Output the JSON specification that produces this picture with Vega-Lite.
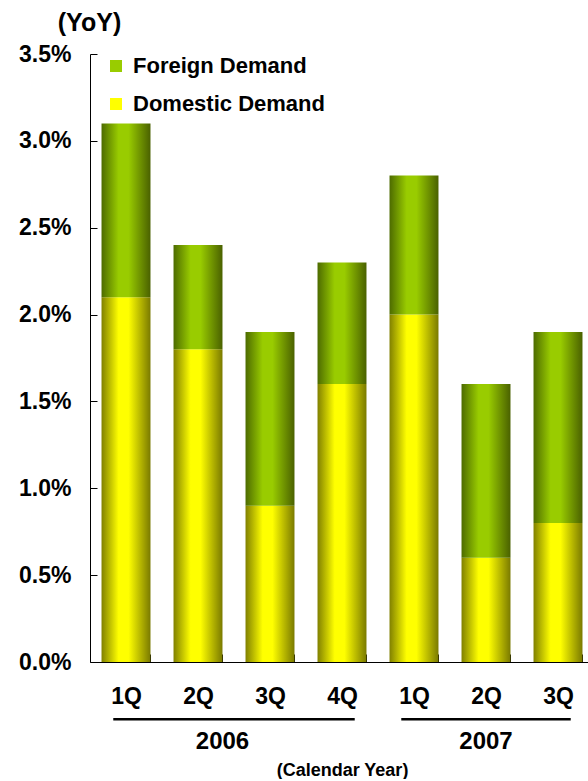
{
  "$schema": "https://vega.github.io/schema/vega-lite/v6.json",
  "background": "white",
  "padding": {"left": 18, "top": 10, "right": 0, "bottom": 0},
  "config": {
    "font": "Liberation Sans",
    "view": {"stroke": null},
    "axis": {"labelColor": "black", "titleColor": "black", "domainColor": "black", "tickColor": "black", "labelFontWeight": "bold", "titleFontWeight": "bold", "ticks": true, "tickWidth": 1},
    "legend": {"labelColor": "black"}
  },
  "datasets": {
    "bars": [
      {"key": "2006-1Q", "series": "Domestic Demand", "value": 2.1},
      {"key": "2006-1Q", "series": "Foreign Demand", "value": 1.0},
      {"key": "2006-2Q", "series": "Domestic Demand", "value": 1.8},
      {"key": "2006-2Q", "series": "Foreign Demand", "value": 0.6},
      {"key": "2006-3Q", "series": "Domestic Demand", "value": 0.9},
      {"key": "2006-3Q", "series": "Foreign Demand", "value": 1.0},
      {"key": "2006-4Q", "series": "Domestic Demand", "value": 1.6},
      {"key": "2006-4Q", "series": "Foreign Demand", "value": 0.7},
      {"key": "2007-1Q", "series": "Domestic Demand", "value": 2.0},
      {"key": "2007-1Q", "series": "Foreign Demand", "value": 0.8},
      {"key": "2007-2Q", "series": "Domestic Demand", "value": 0.6},
      {"key": "2007-2Q", "series": "Foreign Demand", "value": 1.0},
      {"key": "2007-3Q", "series": "Domestic Demand", "value": 0.8},
      {"key": "2007-3Q", "series": "Foreign Demand", "value": 1.1}
    ],
    "years": [
      {"year": "2006", "first": "2006-1Q", "last": "2006-4Q", "mid": "2006-2Q"},
      {"year": "2007", "first": "2007-1Q", "last": "2007-3Q", "mid": "2007-2Q"}
    ]
  },
  "spacing": 0,
  "vconcat": [
    {
      "width": 504,
      "height": 608,
      "data": {"name": "bars"},
      "transform": [
        {"stack": "value", "groupby": ["key"], "sort": [{"field": "series", "order": "ascending"}], "as": ["y0", "y1"]}
      ],
      "encoding": {
        "x": {
          "field": "key", "type": "nominal", "sort": null,
          "scale": {"domain": ["2006-1Q","2006-2Q","2006-3Q","2006-4Q","2007-1Q","2007-2Q","2007-3Q"], "paddingInner": 0.32, "paddingOuter": 0.16},
          "axis": {"title": null, "labelExpr": "split(datum.label, '-')[1]", "labelFontSize": 23, "labelAngle": 0, "tickBand": "extent", "tickSize": -8, "labelPadding": 31, "domainWidth": 1}
        },
        "y": {
          "field": "y0", "type": "quantitative",
          "scale": {"domain": [0, 3.5], "nice": false},
          "axis": {
            "values": [0, 0.5, 1, 1.5, 2, 2.5, 3, 3.5],
            "labelExpr": "format(datum.value, '.1f') + '%'",
            "labelFontSize": 23, "grid": false, "tickSize": -7, "labelPadding": 26,
            "title": "(YoY)", "titleAngle": 0, "titleAlign": "center", "titleBaseline": "middle",
            "titleX": -1, "titleY": -32, "titleFontSize": 25
          }
        },
        "y2": {"field": "y1"}
      },
      "layer": [
        {
          "transform": [{"filter": "datum.series == 'Domestic Demand'"}],
          "mark": {"type": "bar", "color": {"gradient": "linear", "x1": 0, "y1": 0, "x2": 1, "y2": 0, "stops": [
            {"offset": 0, "color": "#808000"}, {"offset": 0.35, "color": "#ffff00"}, {"offset": 0.55, "color": "#ffff00"}, {"offset": 1, "color": "#7a7a00"}]}}
        },
        {
          "transform": [{"filter": "datum.series == 'Foreign Demand'"}],
          "mark": {"type": "bar", "color": {"gradient": "linear", "x1": 0, "y1": 0, "x2": 1, "y2": 0, "stops": [
            {"offset": 0, "color": "#4d6b00"}, {"offset": 0.35, "color": "#99cc00"}, {"offset": 0.55, "color": "#99cc00"}, {"offset": 1, "color": "#4a6100"}]}}
        },
        {
          "mark": {"type": "square", "size": 0, "filled": true, "opacity": 1},
          "encoding": {
            "y": {"field": "y1", "type": "quantitative"},
            "y2": null,
            "color": {
              "field": "series", "type": "nominal",
              "scale": {"domain": ["Foreign Demand", "Domestic Demand"], "range": ["#99cc00", "#ffff00"]},
              "legend": {
                "title": null, "orient": "none", "legendX": 15, "legendY": 1,
                "symbolType": "square", "symbolSize": 144, "symbolStrokeWidth": 0,
                "labelFontSize": 22, "labelFontWeight": "bold", "labelOffset": 6, "rowPadding": 16, "padding": 0, "labelLimit": 400
              }
            }
          }
        }
      ]
    },
    {
      "width": 504,
      "height": 45,
      "data": {"name": "years"},
      "layer": [
        {
          "mark": {"type": "rule", "strokeWidth": 2.5, "color": "black"},
          "encoding": {
            "x": {"field": "first", "type": "nominal", "bandPosition": 0.24,
              "scale": {"domain": ["2006-1Q","2006-2Q","2006-3Q","2006-4Q","2007-1Q","2007-2Q","2007-3Q"], "paddingInner": 0.32, "paddingOuter": 0.16},
              "axis": {"title": "(Calendar Year)", "labels": false, "ticks": false, "domain": false, "titleFontSize": 18, "titlePadding": 8}},
            "x2": {"field": "last", "bandPosition": 0.76},
            "y": {"datum": "line", "type": "nominal", "scale": {"domain": ["line", "year"], "type": "point", "padding": 0.5}, "axis": null}
          }
        },
        {
          "transform": [{"filter": "datum.year == '2006'"}],
          "mark": {"type": "text", "fontSize": 24, "fontWeight": "bold", "color": "black", "baseline": "middle"},
          "encoding": {
            "x": {"field": "mid", "type": "nominal", "bandPosition": 1},
            "y": {"datum": "year", "type": "nominal"},
            "text": {"field": "year"}
          }
        },
        {
          "transform": [{"filter": "datum.year == '2007'"}],
          "mark": {"type": "text", "fontSize": 24, "fontWeight": "bold", "color": "black", "baseline": "middle"},
          "encoding": {
            "x": {"field": "mid", "type": "nominal", "bandPosition": 0.5},
            "y": {"datum": "year", "type": "nominal"},
            "text": {"field": "year"}
          }
        }
      ]
    }
  ]
}
